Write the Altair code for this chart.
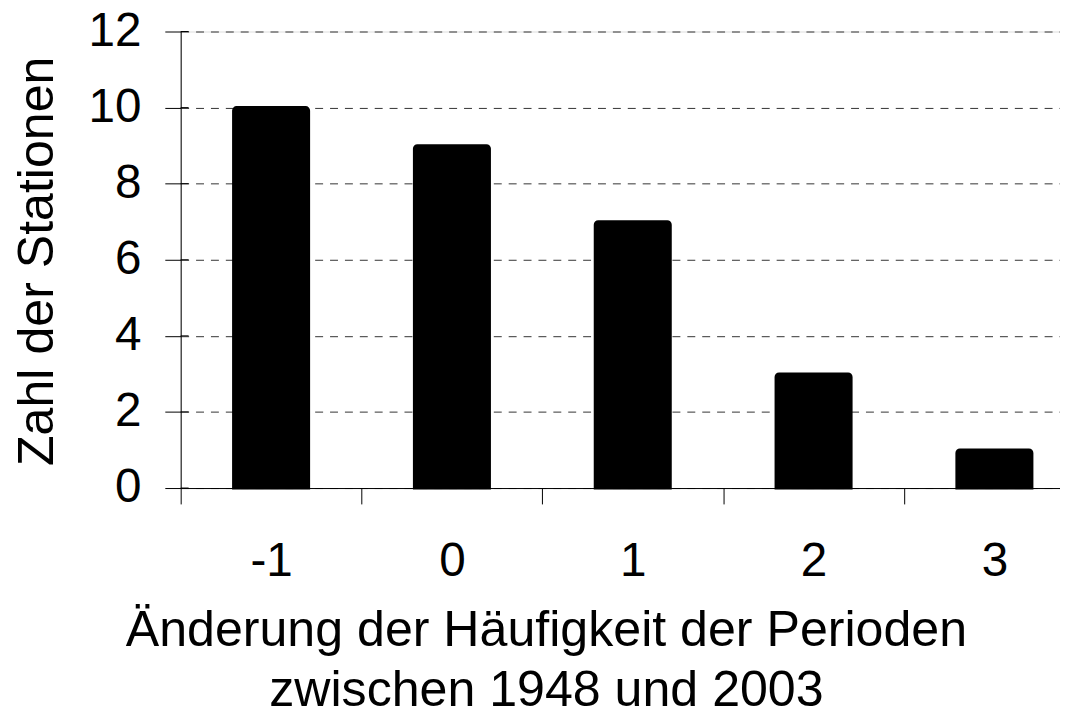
import altair as alt
import pandas as pd

categories = ["-1", "0", "1", "2", "3"]
counts = [10, 9, 7, 3, 1]
y_ticks = [0, 2, 4, 6, 8, 10, 12]

df = pd.DataFrame({"cat": categories, "n": counts})
ticks_df = pd.DataFrame({"t": y_ticks})

FONT = "Liberation Sans"
LFS = 48
TFS = 50.5

y_scale = alt.Scale(domain=[0, 12], nice=False, zero=True)
x_scale = alt.Scale(domain=categories, range=[0, 911], paddingInner=0, paddingOuter=0)

bars = alt.Chart(df).mark_bar(
    color="black", stroke="black", strokeWidth=3,
    cornerRadiusTopLeft=3, cornerRadiusTopRight=3,
    width=alt.RelativeBandSize(0.415),
).encode(
    x=alt.X(
        "cat:N", scale=x_scale, sort=categories,
        axis=alt.Axis(
            title=["Änderung der Häufigkeit der Perioden", "zwischen 1948 und 2003"],
            labelAngle=0, tickBand="extent", tickSize=16, ticks=True,
            tickColor="black", domainColor="black",
            labelPadding=72, labelBaseline="alphabetic",
            labelFont=FONT, labelFontSize=LFS, labelColor="black",
            titleX=368, titleY=159, titleAlign="center", titleBaseline="alphabetic",
            titleLineHeight=60, titleFont=FONT, titleFontSize=TFS,
            titleFontWeight="normal", titleColor="black", grid=False,
        ),
    ),
    y=alt.Y(
        "n:Q", scale=y_scale,
        axis=alt.Axis(
            values=y_ticks, title="Zahl der Stationen",
            tickSize=16, tickColor="black", domainColor="black",
            labelPadding=24, labelFont=FONT, labelFontSize=LFS, labelColor="black",
            titleX=-129, titleY=231, titleBaseline="alphabetic", titleAngle=270,
            titleFont=FONT, titleFontSize=TFS, titleFontWeight="normal", titleColor="black",
            grid=True, gridDash=[8, 7], gridColor="#333", gridWidth=1,
        ),
    ),
)

inner_ticks = alt.Chart(ticks_df).mark_rule(color="black", strokeWidth=1).encode(
    y=alt.Y("t:Q", scale=y_scale),
    x=alt.value(0),
    x2=alt.value(8),
)

chart = alt.layer(bars, inner_ticks).properties(
    width=886, height=460,
    autosize=alt.AutoSizeParams(type="none"),
    padding={"left": 174, "top": 21, "right": 0, "bottom": 226},
).configure_view(stroke="#999", strokeWidth=1).configure(background="white")

chart.save("out.html", embed_options={"renderer": "svg", "actions": False})
